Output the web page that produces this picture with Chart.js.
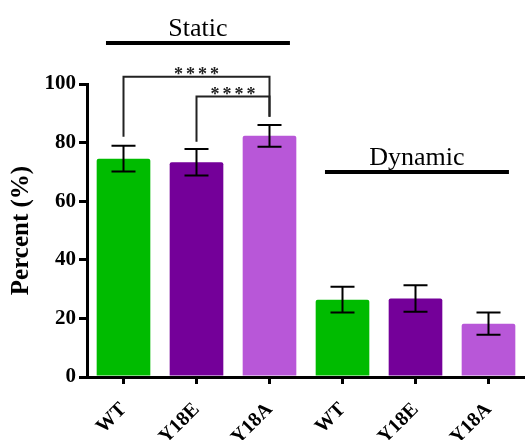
<!DOCTYPE html>
<html><head><meta charset="utf-8">
<script src="https://cdn.jsdelivr.net/npm/chart.js@4"></script>
<style>html,body{margin:0;padding:0;background:#fff}</style>
</head><body>
<canvas id="c" width="525" height="440"></canvas>
<script>
// ---- data ----
const categories = ['WT', 'Y18E', 'Y18A', 'WT', 'Y18E', 'Y18A'];
const percentMeans = [74.5, 73.3, 82.3, 26.4, 26.8, 18.2];
const percentErrors = [4.4, 4.5, 3.7, 4.4, 4.5, 3.8];
const barColors = ['#00bb00', '#740099', '#b857d8', '#00bb00', '#740099', '#b857d8'];
const yTicks = [0, 20, 40, 60, 80, 100];
// groups (Static / Dynamic headers)
const groupNames = ['Static', 'Dynamic'];
const groupFirst = [0, 3];
const groupLast = [2, 5];
const groupLevels = [114, 70];
// significance brackets
const sigFrom = [0, 1];
const sigTo = [2, 2];
const sigTop = [102.5, 95.7];
const sigFromEnd = [82.0, 80.3];
const sigToEnd = [88.8, 88.8];
const sigLabels = ['****', '****'];

const SERIF = "'Liberation Serif', 'Times New Roman', serif";

const annot = {
  id: 'annot',
  afterDatasetsDraw(chart) {
    const { ctx, scales: { x, y } } = chart;
    ctx.save();
    // error bars
    ctx.strokeStyle = '#000';
    ctx.lineWidth = 2;
    percentMeans.forEach((m, i) => {
      const px = x.getPixelForValue(i);
      const top = y.getPixelForValue(m + percentErrors[i]);
      const bot = y.getPixelForValue(m - percentErrors[i]);
      ctx.beginPath();
      ctx.moveTo(px, top); ctx.lineTo(px, bot);
      ctx.moveTo(px - 12, top); ctx.lineTo(px + 12, top);
      ctx.moveTo(px - 12, bot); ctx.lineTo(px + 12, bot);
      ctx.stroke();
    });
    // significance brackets
    ctx.strokeStyle = '#222';
    ctx.lineWidth = 2;
    ctx.fillStyle = '#222';
    ctx.font = 'bold 18px ' + SERIF;
    ctx.textAlign = 'center';
    ctx.textBaseline = 'alphabetic';
    try { ctx.letterSpacing = '3px'; } catch (e) {}
    sigFrom.forEach((f, k) => {
      const x1 = x.getPixelForValue(f);
      const x2 = x.getPixelForValue(sigTo[k]);
      const yt = y.getPixelForValue(sigTop[k]);
      ctx.beginPath();
      ctx.moveTo(x1, y.getPixelForValue(sigFromEnd[k]));
      ctx.lineTo(x1, yt);
      ctx.lineTo(x2, yt);
      ctx.lineTo(x2, y.getPixelForValue(sigToEnd[k]));
      ctx.stroke();
      ctx.fillText(sigLabels[k], (x1 + x2) / 2 + 1.5, yt + 3.5);
    });
    try { ctx.letterSpacing = '0px'; } catch (e) {}
    // group headers
    ctx.strokeStyle = '#000';
    ctx.lineWidth = 4;
    ctx.fillStyle = '#000';
    ctx.font = '26px ' + SERIF;
    groupNames.forEach((g, k) => {
      const xa = x.getPixelForValue(groupFirst[k] - 0.24);
      const xb = x.getPixelForValue(groupLast[k] + 0.28);
      const yl = y.getPixelForValue(groupLevels[k]);
      ctx.beginPath();
      ctx.moveTo(xa, yl); ctx.lineTo(xb, yl);
      ctx.stroke();
      ctx.fillText(g, (xa + xb) / 2, yl - 7);
    });
    ctx.restore();
  }
};

new Chart(document.getElementById('c'), {
  type: 'bar',
  data: {
    labels: categories,
    datasets: [{
      data: percentMeans,
      backgroundColor: barColors,
      borderWidth: 0,
      borderRadius: 2,
      borderSkipped: 'bottom',
      barPercentage: 0.735,
      categoryPercentage: 1
    }]
  },
  options: {
    responsive: false,
    animation: false,
    layout: { padding: { top: 84, right: -3, left: 0, bottom: 0 } },
    plugins: { legend: { display: false }, tooltip: { enabled: false } },
    scales: {
      x: {
        ticks: {
          color: '#000', autoSkip: false, maxRotation: 45, minRotation: 45, padding: 14,
          font: { family: SERIF, size: 20, weight: 'bold' }
        },
        grid: { drawOnChartArea: false, offset: false, drawTicks: true, tickLength: 7, color: '#000', lineWidth: 3 },
        border: { color: '#000', width: 3 },
        afterFit: s => { s.height = 63; }
      },
      y: {
        min: 0, max: 100,
        afterBuildTicks: s => { s.ticks = yTicks.map(v => ({ value: v })); },
        ticks: { color: '#000', padding: 3, font: { family: SERIF, size: 21, weight: 'bold' } },
        grid: { drawOnChartArea: false, drawTicks: true, tickLength: 8, color: '#000', lineWidth: 3 },
        border: { color: '#000', width: 3 },
        title: {
          display: true, text: 'Percent (%)', color: '#000',
          font: { family: SERIF, size: 25, weight: 'bold' },
          padding: { top: 7, bottom: 0 }
        },
        afterFit: s => { s.width = 87; }
      }
    }
  },
  plugins: [annot]
});
</script>
</body></html>
